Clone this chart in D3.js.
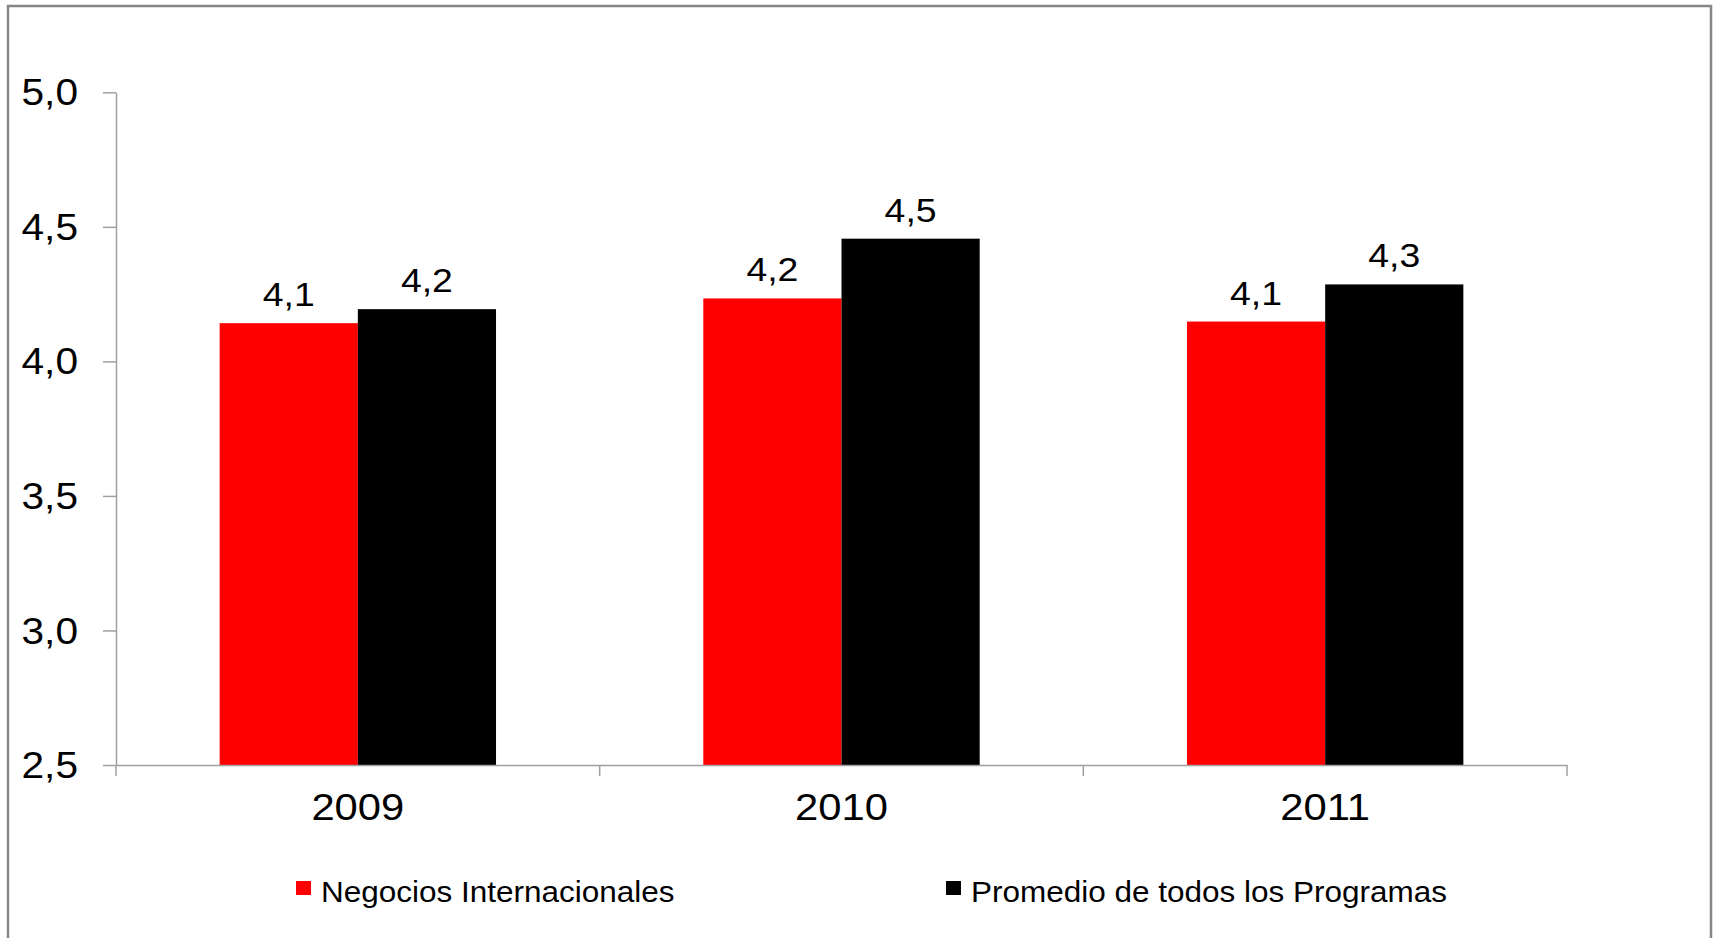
<!DOCTYPE html>
<html lang="es">
<head>
    <meta charset="UTF-8"/>
    <title>Negocios Internacionales vs Promedio</title>
    <script src="https://d3js.org/d3.v7.min.js"></script>
    <style>
        body { margin: 0; background: #fff; }
        svg { display: block; font-family: "Liberation Sans", Arial, sans-serif; }
    </style>
</head>
<body>
<script>
    var years = ["2009", "2010", "2011"];
    var seriesNames = ["Negocios Internacionales", "Promedio de todos los Programas"];
    var negocios = [4.142, 4.234, 4.148];
    var promedio = [4.194, 4.456, 4.286];
    var yTicks = [2.5, 3.0, 3.5, 4.0, 4.5, 5.0];
    var colors = ["#ff0000", "#000000"];

    var w = 1713, h = 938;

    var es = d3.formatLocale({decimal: ",", thousands: ".", grouping: [3], currency: ["", ""]});
    var fmt = es.format(".1f");

    var svg = d3.select("body").append("svg")
        .attr("width", w)
        .attr("height", h);

    // outer frame
    svg.append("rect")
        .attr("x", 8).attr("y", 6)
        .attr("width", 1703).attr("height", 960)
        .attr("fill", "#fff")
        .attr("stroke", "#878787")
        .attr("stroke-width", 2.5);

    var xScale = d3.scaleBand()
        .domain(years)
        .range([116, 1567])
        .paddingInner(0).paddingOuter(0);

    var xInner = d3.scaleBand()
        .domain(seriesNames)
        .range([0, xScale.bandwidth()])
        .paddingInner(0)
        .paddingOuter(0.75);

    var yScale = d3.scaleLinear()
        .domain([2.5, 5])
        .range([765, 92.3]);

    var rows = years.map(function(y, i) {
        return {year: y, values: [negocios[i], promedio[i]]};
    });

    // bars
    var groups = svg.selectAll("g.year")
        .data(rows)
        .enter()
        .append("g")
        .attr("class", "year")
        .attr("transform", function(d) { return "translate(" + xScale(d.year) + ",0)"; });

    groups.selectAll("rect")
        .data(function(d) { return d.values.map(function(v, j) { return {name: seriesNames[j], value: v, j: j}; }); })
        .enter()
        .append("rect")
        .attr("x", function(d) { return xInner(d.name); })
        .attr("y", function(d) { return yScale(d.value); })
        .attr("width", xInner.bandwidth())
        .attr("height", function(d) { return yScale(2.5) - yScale(d.value); })
        .attr("fill", function(d) { return colors[d.j]; });

    // value labels
    groups.selectAll("text")
        .data(function(d) { return d.values.map(function(v, j) { return {name: seriesNames[j], value: v}; }); })
        .enter()
        .append("text")
        .attr("transform", function(d) {
            return "translate(" + (xInner(d.name) + xInner.bandwidth() / 2) + "," + (yScale(d.value) - 17) + ") scale(1.1,1)";
        })
        .attr("text-anchor", "middle")
        .attr("font-size", 34)
        .attr("fill", "#000")
        .text(function(d) { return fmt(d.value); });

    // y axis
    var yAxis = svg.append("g")
        .attr("transform", "translate(116,0)")
        .call(d3.axisLeft(yScale).tickValues(yTicks).tickSize(13).tickSizeOuter(0).tickFormat(fmt));

    yAxis.select(".domain").attr("stroke", "#a0a0a0").attr("stroke-width", 1.5);
    yAxis.selectAll(".tick line").attr("stroke", "#a0a0a0").attr("stroke-width", 1.5);
    yAxis.selectAll(".tick text")
        .attr("x", null)
        .attr("dy", "0.35em")
        .attr("transform", "translate(-38,0) scale(1.13,1)")
        .attr("font-size", 36)
        .attr("font-family", "Liberation Sans, Arial, sans-serif")
        .attr("fill", "#000");

    // x axis
    var xAxis = svg.append("g")
        .attr("transform", "translate(0,765)")
        .call(d3.axisBottom(xScale).tickSize(0).tickSizeOuter(0));

    xAxis.select(".domain").attr("stroke", "#a0a0a0").attr("stroke-width", 1.5);
    xAxis.selectAll(".tick text")
        .attr("y", null)
        .attr("dy", null)
        .attr("transform", "translate(0,55) scale(1.16,1)")
        .attr("font-size", 36)
        .attr("font-family", "Liberation Sans, Arial, sans-serif")
        .attr("fill", "#000");

    var bounds = years.map(function(y) { return xScale(y); });
    bounds.push(xScale(years[years.length - 1]) + xScale.bandwidth());
    xAxis.selectAll("line.bound")
        .data(bounds)
        .enter()
        .append("line")
        .attr("class", "bound")
        .attr("x1", function(d) { return d; })
        .attr("x2", function(d) { return d; })
        .attr("y1", 0)
        .attr("y2", 11)
        .attr("stroke", "#a0a0a0")
        .attr("stroke-width", 1.5);

    // legend
    var legendX = [296, 946];
    var legend = svg.selectAll("g.legend")
        .data(seriesNames)
        .enter()
        .append("g")
        .attr("class", "legend")
        .attr("transform", function(d, i) { return "translate(" + legendX[i] + ",0)"; });

    legend.append("rect")
        .attr("x", 0).attr("y", 881)
        .attr("width", 15).attr("height", 14)
        .attr("fill", function(d, i) { return colors[i]; });

    legend.append("text")
        .attr("transform", "translate(25,902) scale(1.05,1)")
        .attr("font-size", 30)
        .attr("fill", "#000")
        .text(function(d) { return d; });
</script>
</body>
</html>
